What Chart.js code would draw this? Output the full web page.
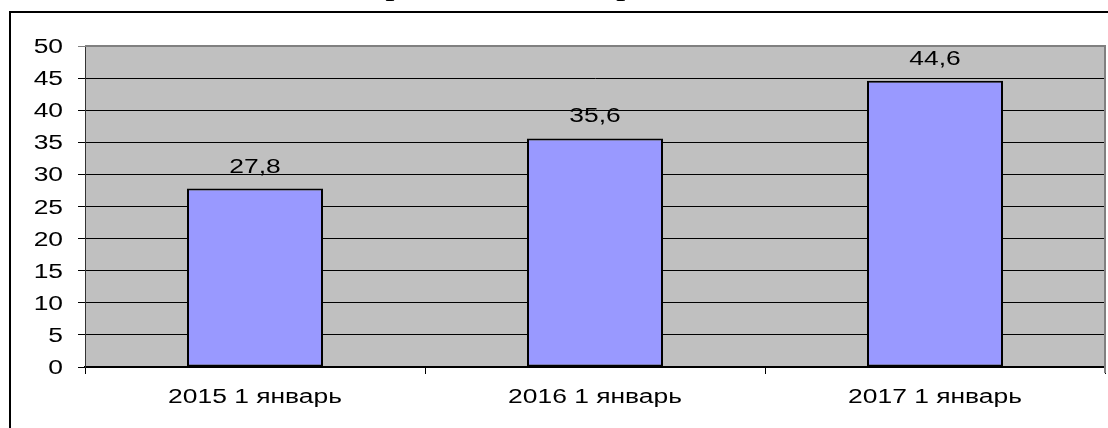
<!DOCTYPE html>
<html>
<head>
<meta charset="utf-8">
<script src="https://cdn.jsdelivr.net/npm/chart.js@4.4.0/dist/chart.umd.min.js"></script>
<style>
  html, body { margin: 0; padding: 0; background: #fff; }
  canvas { display: block; }
</style>
</head>
<body>
<canvas id="growthChart" width="1108" height="428"></canvas>
<script>
// Chart data
const categories = ['2015 1 январь', '2016 1 январь', '2017 1 январь'];
const values = [27.8, 35.6, 44.6];
const yTicks = [0, 5, 10, 15, 20, 25, 30, 35, 40, 45, 50];
const chartTitle = 'Прибыльность отрасли, %';

const FONT = '"Liberation Sans", Arial, sans-serif';
const STRETCH = 1.32; // text is drawn horizontally widened

// draw text widened horizontally around its anchor point
const wideText = (ctx, text, x, y, align) => {
    ctx.save();
    ctx.translate(x, y);
    ctx.scale(STRETCH, 1);
    ctx.textAlign = align;
    ctx.textBaseline = 'alphabetic';
    ctx.fillText(text, 0, 0);
    ctx.restore();
};

// Grey plot background, outer frame and title
const backdrop = {
    id: 'backdrop',
    beforeDraw(chart) {
        const { ctx, chartArea: a } = chart;
        ctx.save();
        ctx.fillStyle = '#fff';
        ctx.fillRect(0, 0, chart.width, chart.height);
        ctx.fillStyle = '#C0C0C0';
        ctx.fillRect(a.left, a.top, a.right - a.left, a.bottom - a.top);

        // outer frame runs off the right and bottom edges
        ctx.strokeStyle = '#000';
        ctx.lineWidth = 2;
        ctx.strokeRect(10, 12, chart.width + 20, chart.height + 20);

        // title sits above the top edge, only its descenders show
        ctx.fillStyle = '#000';
        ctx.font = 'bold 24px "Liberation Serif", "Times New Roman", serif';
        wideText(ctx, chartTitle, 554, -4, 'center');
        ctx.restore();
    },
    afterDatasetsDraw(chart) {
        // grey border on top and right of the plot area
        const { ctx, chartArea: a } = chart;
        ctx.save();
        ctx.strokeStyle = '#808080';
        ctx.lineWidth = 2;
        ctx.beginPath();
        ctx.moveTo(a.left, a.top);
        ctx.lineTo(a.right, a.top);
        ctx.lineTo(a.right, a.bottom + 6);
        ctx.stroke();
        ctx.restore();
    }
};

// Axis labels and value labels
const labels = {
    id: 'labels',
    afterDraw(chart) {
        const { ctx, chartArea: a } = chart;
        const xs = chart.scales.x;
        const ys = chart.scales.y;
        ctx.save();
        ctx.fillStyle = '#000';
        ctx.font = '20px ' + FONT;

        yTicks.forEach(v => {
            wideText(ctx, String(v), 63, ys.getPixelForValue(v) + 7, 'right');
        });
        categories.forEach((c, i) => {
            wideText(ctx, c, xs.getPixelForValue(i), a.bottom + 36, 'center');
        });
        chart.getDatasetMeta(0).data.forEach((bar, i) => {
            const text = String(values[i]).replace('.', ',');
            wideText(ctx, text, bar.x, bar.y - 16, 'center');
        });
        ctx.restore();
    }
};

const initChart = () => {
    const ctx = document.getElementById('growthChart').getContext('2d');
    return new Chart(ctx, {
        type: 'bar',
        data: {
            labels: categories,
            datasets: [{
                data: values,
                backgroundColor: '#9999FF',
                borderColor: '#000',
                borderWidth: 2,
                borderSkipped: false,
                barPercentage: 0.4,
                categoryPercentage: 1.0
            }]
        },
        options: {
            responsive: false,
            animation: false,
            layout: { padding: { top: 46, right: 3, left: 0, bottom: 0 } },
            plugins: {
                legend: { display: false },
                title: { display: false },
                tooltip: { enabled: false }
            },
            scales: {
                x: {
                    offset: true,
                    grid: {
                        offset: true,
                        drawOnChartArea: false,
                        color: '#000',
                        tickLength: 7
                    },
                    border: { color: '#000', width: 2 },
                    ticks: { display: false },
                    afterFit(scale) { scale.height = 61; }
                },
                y: {
                    min: 0,
                    max: 50,
                    afterBuildTicks(scale) {
                        scale.ticks = yTicks.map(v => ({ value: v }));
                    },
                    grid: {
                        color: c => (c.tick && c.tick.value === 50 ? '#808080' : '#000'),
                        lineWidth: 1,
                        tickLength: 7
                    },
                    border: { color: '#333', width: 1 },
                    ticks: { display: false },
                    afterFit(scale) { scale.width = 85; }
                }
            }
        },
        plugins: [backdrop, labels]
    });
};

document.addEventListener('DOMContentLoaded', () => {
    initChart();
});
</script>
</body>
</html>
